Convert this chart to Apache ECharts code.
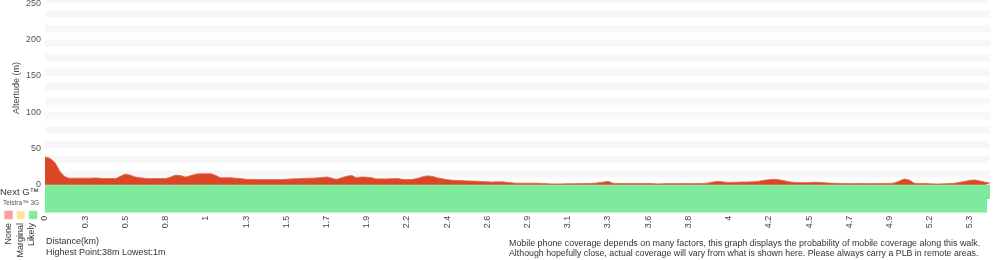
<!DOCTYPE html>
<html>
<head>
<meta charset="utf-8">
<script src="https://cdn.jsdelivr.net/npm/echarts@6/dist/echarts.min.js"></script>
<style>
html,body{margin:0;padding:0;background:#fff;}
#chart{width:1000px;height:260px;}
</style>
</head>
<body>
<div id="chart"></div>
<script>
// ---- data ----
const tickLabels = ['0','0.3','0.5','0.8','1','1.3','1.5','1.7','1.9','2.2','2.4','2.6','2.9','3.1','3.3','3.6','3.8','4','4.2','4.5','4.7','4.9','5.2','5.3'];
const LABEL_EVERY = 8;
const elevation = [
38,36,30,18,11,8.8,9,9,9,9,
9.3,8.8,8.5,8.5,8.5,11.5,14.5,13,10.5,9.5,
8.7,8.5,8.5,8.5,8.5,10.5,13,12.5,10.5,12.5,
14.5,15,15,15,12.5,9.5,9.5,9.5,8.8,8.3,
7.5,7.3,7.2,7,7,7,7,7,7.5,8,
8.2,8.5,8.8,9,9.3,9.8,10.5,9,7.5,9.5,
11.5,12.5,9.5,10.5,10.3,9.5,8,8,8,8.3,
8.5,7.5,7,7.3,8.5,10.5,12,11.5,9.5,8.2,
7,6.2,5.8,5.5,5.2,5,4.7,4.3,4,3.7,
3.9,4,3,2.5,2,2,2,2,2,1.7,
1.3,1,1,1,1.2,1.3,1.4,1.5,1.5,2,
2.5,3.5,4.5,2,1.5,1.5,1.5,1.5,1.5,1.5,
1.5,1.3,1,1.2,1.5,1.5,1.5,1.5,1.5,1.5,
1.5,1.7,2.5,3.8,4.5,3.8,3,3.2,3.5,3.7,
3.8,4,4.8,6,6.8,7.5,6.8,5.5,4,3.2,
2.8,2.8,3,3.3,3.3,2.8,2.2,1.9,1.7,1.5,
1.5,1.5,1.5,1.5,1.5,1.5,1.5,1.5,1.8,2.5,
5,7.8,6,2,1.7,1.5,1.2,1,1,1.2,
1.5,2,3.3,4.5,6,6.5,5,3.5,2.3
];
const coverageRows = ['Next G™', 'Telstra™ 3G'];
// [startIndex, endIndex, rowIndex, level]
const coverageSegments = [
  [0, 188, 0, 'likely'],
  [0, 187.4, 1, 'likely']
];
const coverageLevels = ['None', 'Marginal', 'Likely'];
const yTickStep = 50;

// ---- styles ----
const levelColors = { none: '#ff9d9d', marginal: '#ffe0a6', likely: '#7deb9b' };
const legendColors = ['#ff9d9d', '#ffe0a6', '#86e89e'];
const FONT = '"Liberation Sans", Arial, Helvetica, sans-serif';

const categories = elevation.map((_, i) => String(i));
const highest = Math.round(Math.max(...elevation));
const lowest = Math.max(1, Math.round(Math.min(...elevation)));

const chart = echarts.init(document.getElementById('chart'), null, { renderer: 'canvas' });

const graphic = [
  { type: 'text', x: 17, y: 88, rotation: Math.PI / 2,
    style: { text: 'Altertude (m)', fontSize: 9, fontFamily: FONT, fill: '#444', align: 'center', verticalAlign: 'middle' } },
  { type: 'text', left: 0, top: 187, style: { text: 'Next G™', fontSize: 9.5, fontFamily: FONT, fill: '#333' } },
  { type: 'text', left: 3, top: 200, style: { text: 'Telstra™ 3G', fontSize: 6.5, fontFamily: FONT, fill: '#555' } }
];
legendColors.forEach((c, k) => {
  graphic.push({ type: 'rect', shape: { x: 4.5 + k * 12.3, y: 211, width: 8, height: 8 }, style: { fill: c, stroke: echarts.color.lift(c, -0.1), lineWidth: 0.6 } });
  graphic.push({ type: 'text', x: 9 + k * 11.5, y: 223, rotation: Math.PI / 2,
    style: { text: coverageLevels[k], fontSize: 9, fontFamily: FONT, fill: '#333', align: 'right', verticalAlign: 'middle' } });
});
graphic.push({ type: 'text', x: 46, y: 242, style: { text: 'Distance(km)', fontSize: 9, fontFamily: FONT, fill: '#333', verticalAlign: 'middle' } });
graphic.push({ type: 'text', x: 46, y: 252.5, style: { text: 'Highest Point:' + highest + 'm Lowest:' + lowest + 'm', fontSize: 9, fontFamily: FONT, fill: '#333', verticalAlign: 'middle' } });
graphic.push({ type: 'text', x: 509, y: 244, style: { text: 'Mobile phone coverage depends on many factors, this graph displays the probability of mobile coverage along this walk.', fontSize: 8.9, fontFamily: FONT, fill: '#333', verticalAlign: 'middle' } });
graphic.push({ type: 'text', x: 509, y: 254, style: { text: 'Although hopefully close, actual coverage will vary from what is shown here. Please always carry a PLB in remote areas.', fontSize: 8.8, fontFamily: FONT, fill: '#333', verticalAlign: 'middle' } });

const option = {
  animation: false,
  backgroundColor: '#fff',
  graphic: graphic,
  grid: [
    { left: 45, right: 10, top: -4.2, height: 188.9, containLabel: false, outerBoundsMode: 'none' },
    { left: 45, right: 10, top: 185, height: 27, containLabel: false, outerBoundsMode: 'none' }
  ],
  xAxis: [
    {
      gridIndex: 0, type: 'category', data: categories, boundaryGap: false,
      axisLine: { show: false }, axisTick: { show: false },
      axisLabel: {
        interval: LABEL_EVERY - 1, rotate: 90, margin: 31, fontSize: 9, fontFamily: FONT, color: '#444',
        formatter: (v, idx) => (idx % LABEL_EVERY === 0 ? tickLabels[idx / LABEL_EVERY] : '')
      },
      splitLine: { show: false }
    },
    {
      gridIndex: 1, type: 'value', min: 0, max: elevation.length - 1, show: false
    }
  ],
  yAxis: [
    {
      gridIndex: 0, type: 'value', min: 0, max: 260, interval: 10,
      axisLine: { show: false }, axisTick: { show: false },
      axisLabel: {
        margin: 4, fontSize: 9, fontFamily: FONT, color: '#555',
        formatter: v => (v % yTickStep === 0 && v <= 250 ? String(v) : '')
      },
      splitLine: { show: false },
      splitArea: { show: true, areaStyle: { color: ['#ffffff', '#f7f7f7'] } }
    },
    {
      gridIndex: 1, type: 'category', data: coverageRows, inverse: true, show: false
    }
  ],
  series: [
    {
      type: 'line', xAxisIndex: 0, yAxisIndex: 0, data: elevation,
      symbol: 'none', smooth: 0.2,
      lineStyle: { color: '#e26a4c', width: 1 },
      areaStyle: { color: '#da4727', opacity: 1 },
      z: 3
    },
    {
      type: 'custom', xAxisIndex: 1, yAxisIndex: 1,
      data: coverageSegments,
      encode: { x: [0, 1], y: 2 },
      renderItem: (params, api) => {
        const p0 = api.coord([api.value(0), api.value(2)]);
        const p1 = api.coord([api.value(1), api.value(2)]);
        const h = api.size([0, 1])[1];
        const lvl = coverageSegments[params.dataIndex][3];
        return {
          type: 'rect',
          shape: { x: p0[0], y: p0[1] - h / 2 - 0.5, width: p1[0] - p0[0], height: h + 1 },
          style: { fill: levelColors[lvl] }
        };
      }
    }
  ]
};
chart.setOption(option);
</script>
</body>
</html>
